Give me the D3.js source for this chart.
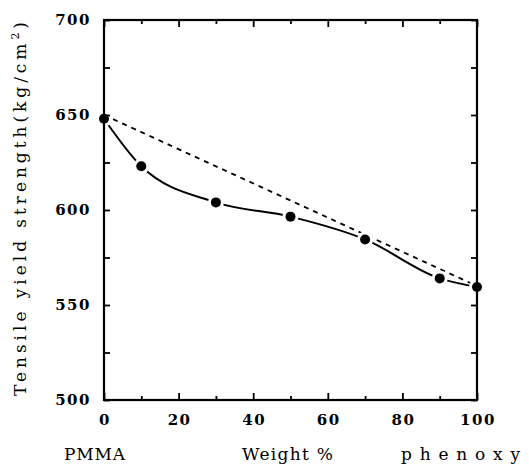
<!DOCTYPE html>
<html>
<head>
<meta charset="utf-8">
<script src="https://cdn.jsdelivr.net/npm/d3@7"></script>
<style>
  body { margin: 0; background: #fff; }
  svg { display: block; }
  .tick-label { font-family: 'DejaVu Serif', serif; font-weight: bold; font-size: 15px; letter-spacing: 1.5px; }
  .title { font-family: 'DejaVu Serif', serif; font-size: 17px; }
</style>
</head>
<body>
<div id="chart"></div>
<script>
// ----------------------------DATA-------------------------------//
const weight = [0, 10, 30, 50, 70, 90, 100];
const strength = [648, 623, 604, 596.5, 584.5, 564, 559.5];
const additiveWeight = [0, 100];
const additiveStrength = [650, 560];
const xTicks = [0, 20, 40, 60, 80, 100];
const yTicks = [500, 550, 600, 650, 700];

const width = 529;
const height = 464;
const margin = { top: 20, right: 52, bottom: 64, left: 104 };
const innerW = width - margin.left - margin.right;
const innerH = height - margin.top - margin.bottom;

const svg = d3.select('#chart').append('svg')
  .attr('width', width)
  .attr('height', height);

const g = svg.append('g')
  .attr('transform', `translate(${margin.left},${margin.top})`);

// ----------------------------SCALES-----------------------------//
const x = d3.scaleLinear().domain([0, 100]).range([0, innerW]);
const y = d3.scaleLinear().domain([500, 700]).range([innerH, 0]);

// ----------------------------LINES------------------------------//
const pts = weight.map((w, i) => ({ w, s: strength[i] }));
const addPts = additiveWeight.map((w, i) => ({ w, s: additiveStrength[i] }));

const curve = d3.line()
  .x(d => x(d.w))
  .y(d => y(d.s))
  .curve(d3.curveMonotoneX);

const straight = d3.line()
  .x(d => x(d.w))
  .y(d => y(d.s));

g.append('path')
  .attr('d', straight(addPts))
  .attr('fill', 'none')
  .attr('stroke', '#000')
  .attr('stroke-width', 1.8)
  .attr('stroke-dasharray', '5,5');

g.append('path')
  .attr('d', curve(pts))
  .attr('fill', 'none')
  .attr('stroke', '#000')
  .attr('stroke-width', 2);

// white halo so the lines break around the markers
g.selectAll('circle.halo')
  .data(pts)
  .enter()
  .append('circle')
  .attr('class', 'halo')
  .attr('cx', d => x(d.w))
  .attr('cy', d => y(d.s))
  .attr('r', 8)
  .attr('fill', '#fff');

// -----------------------------AXES------------------------------//
const tickLen = v => (v % 20 === 0 ? 7 : 4);

const xAxisBottom = d3.axisBottom(x)
  .tickValues(d3.range(0, 101, 10))
  .tickSize(0)
  .tickFormat('');
const xAxisTop = d3.axisTop(x)
  .tickValues(d3.range(0, 101, 10))
  .tickSize(0)
  .tickFormat('');

const bottomAxis = g.append('g')
  .attr('transform', `translate(0,${innerH})`)
  .call(xAxisBottom);
bottomAxis.selectAll('.tick line')
  .attr('y2', d => -tickLen(d));

const topAxis = g.append('g').call(xAxisTop);
topAxis.selectAll('.tick line')
  .attr('y2', d => tickLen(d));

const yAxisLeft = d3.axisLeft(y)
  .tickValues(d3.range(500, 701, 25))
  .tickSize(-6)
  .tickFormat('');
const yAxisRight = d3.axisRight(y)
  .tickValues(d3.range(500, 701, 25))
  .tickSize(-6)
  .tickFormat('');

g.append('g').call(yAxisLeft);
g.append('g').attr('transform', `translate(${innerW},0)`).call(yAxisRight);

g.selectAll('.domain').remove();
g.selectAll('.tick line')
  .attr('stroke', '#000')
  .attr('stroke-width', 1.8);

g.append('rect')
  .attr('width', innerW)
  .attr('height', innerH)
  .attr('fill', 'none')
  .attr('stroke', '#000')
  .attr('stroke-width', 2.2);

// tick labels
g.selectAll('text.xl')
  .data(xTicks)
  .enter()
  .append('text')
  .attr('class', 'tick-label')
  .attr('x', d => x(d) + 1)
  .attr('y', innerH + 25)
  .attr('text-anchor', 'middle')
  .text(d => d);

g.selectAll('text.yl')
  .data(yTicks)
  .enter()
  .append('text')
  .attr('class', 'tick-label')
  .attr('x', -13)
  .attr('y', d => y(d) + 5)
  .attr('text-anchor', 'end')
  .text(d => d);

// ----------------------------MARKERS----------------------------//
g.selectAll('circle.dot')
  .data(pts)
  .enter()
  .append('circle')
  .attr('class', 'dot')
  .attr('cx', d => x(d.w))
  .attr('cy', d => y(d.s))
  .attr('r', 5)
  .attr('fill', '#000');

// ----------------------------TITLES-----------------------------//
svg.append('text')
  .attr('class', 'title')
  .attr('x', 64)
  .attr('y', 460)
  .attr('textLength', 61)
  .attr('lengthAdjust', 'spacing')
  .text('PMMA');

svg.append('text')
  .attr('class', 'title')
  .attr('x', 242)
  .attr('y', 460)
  .attr('textLength', 91)
  .attr('lengthAdjust', 'spacing')
  .text('Weight %');

svg.append('text')
  .attr('class', 'title')
  .attr('x', 401)
  .attr('y', 460)
  .attr('textLength', 119)
  .attr('lengthAdjust', 'spacing')
  .text('phenoxy');

const yl = svg.append('text')
  .attr('class', 'title')
  .attr('transform', 'translate(26,396) rotate(-90)')
  .attr('textLength', 374)
  .attr('lengthAdjust', 'spacing');
yl.append('tspan').text('Tensile yield strength(kg/cm');
yl.append('tspan').attr('dy', -7).attr('font-size', 11).text('2');
yl.append('tspan').attr('dy', 7).text(')');
</script>
</body>
</html>
